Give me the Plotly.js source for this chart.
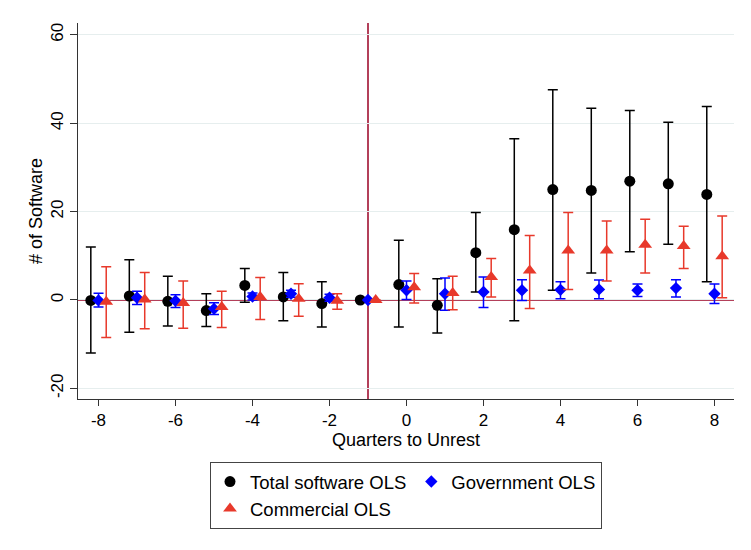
<!DOCTYPE html>
<html>
<head>
<meta charset="utf-8">
<script src="https://cdn.plot.ly/plotly-3.0.1.min.js"></script>
<style>html,body{margin:0;padding:0;background:#fff;}#chart{width:751px;height:550px;}</style>
</head>
<body>
<div id="chart"></div>
<script>
// ---- data ----
const quarters = [-8,-7,-6,-5,-4,-3,-2,-1,0,1,2,3,4,5,6,7,8];

const totalCoef = [-0.1, 0.9, -0.3, -2.4, 3.3, 0.7, -0.8, 0, 3.5, -1.2, 10.7, 15.9, 25.0, 24.8, 26.9, 26.3, 23.9];
const totalLo   = [-12.0, -7.3, -5.9, -6.0, -0.5, -4.7, -6.1, null, -6.1, -7.5, 1.8, -4.7, 2.2, 6.1, 10.9, 12.6, 4.1];
const totalHi   = [12.0, 9.1, 5.4, 1.4, 7.1, 6.2, 4.1, null, 13.5, 4.8, 19.8, 36.5, 47.6, 43.4, 42.9, 40.2, 43.8];

const govCoef = [-0.1, 0.5, -0.2, -2.0, 0.8, 1.4, 0.5, 0, 2.2, 1.4, 1.8, 2.2, 2.3, 2.4, 2.2, 2.7, 1.4];
const govLo   = [-1.6, -1.0, -1.7, -3.3, 0.0, 0.6, -0.3, null, 0.1, -2.3, -1.7, -0.1, 0.3, 0.3, 0.8, 0.7, -0.8];
const govHi   = [1.5, 2.0, 1.2, -0.6, 1.6, 2.2, 1.3, null, 4.3, 5.0, 5.2, 4.6, 4.1, 4.5, 3.6, 4.6, 3.6];

const comCoef = [-0.4, 0.1, -0.7, -1.6, 0.7, 0.3, -0.2, 0, 2.9, 1.6, 5.2, 6.7, 11.2, 11.2, 12.5, 12.2, 9.9];
const comLo   = [-8.5, -6.5, -6.4, -6.2, -4.4, -3.7, -2.1, null, -0.7, -2.2, 0.7, -1.9, 2.4, 4.3, 6.1, 7.1, 0.5];
const comHi   = [7.5, 6.2, 4.3, 2.0, 5.1, 3.7, 1.4, null, 6.0, 5.4, 9.4, 14.6, 19.8, 17.9, 18.3, 16.7, 19.0];

const yTicks = [-20, 0, 20, 40, 60];
const xTicks = [-8, -6, -4, -2, 0, 2, 4, 6, 8];
const eventQuarter = -1;

// ---- helpers ----
const dodge = 0.2;
function up(c, h)  { return c.map((v, i) => h[i] == null ? null : h[i] - v); }
function down(c, l){ return c.map((v, i) => l[i] == null ? null : v - l[i]); }
const FONT = 'Liberation Sans, Arial, Helvetica, sans-serif';
const RED = '#e8392b';
const LINE = '#b3405a';

const traces = [
  {
    name: 'Total software OLS', legendgroup: 'g1',
    x: quarters.map(q => q - dodge), y: totalCoef, type: 'scatter', mode: 'markers',
    marker: {symbol: 'circle', size: 11, color: '#000000'},
    error_y: {type: 'data', symmetric: false, array: up(totalCoef, totalHi), arrayminus: down(totalCoef, totalLo),
              color: '#000000', thickness: 1.5, width: 5}
  },
  {
    name: 'Government OLS', legendgroup: 'g2',
    x: quarters, y: govCoef, type: 'scatter', mode: 'markers',
    marker: {symbol: 'diamond', size: 9.5, color: '#0000ff'},
    error_y: {type: 'data', symmetric: false, array: up(govCoef, govHi), arrayminus: down(govCoef, govLo),
              color: '#0000ff', thickness: 1.5, width: 5}
  },
  {
    name: 'Commercial OLS', legendgroup: 'g1',
    x: quarters.map(q => q + dodge), y: comCoef, type: 'scatter', mode: 'markers',
    marker: {symbol: 'triangle-up', size: 12, color: RED},
    error_y: {type: 'data', symmetric: false, array: up(comCoef, comHi), arrayminus: down(comCoef, comLo),
              color: RED, thickness: 1.5, width: 5}
  }
];

const layout = {
  width: 751, height: 550,
  margin: {l: 78, r: 17, t: 23, b: 151},
  paper_bgcolor: '#ffffff', plot_bgcolor: '#ffffff',
  font: {family: FONT, size: 17, color: '#000000'},
  showlegend: true,
  legend: {
    orientation: 'h', traceorder: 'grouped',
    x: 0.5, xanchor: 'center', y: -0.1676, yanchor: 'top',
    bordercolor: '#444444', borderwidth: 1, bgcolor: '#ffffff',
    font: {family: FONT, size: 18.5, color: '#000000'}
  },
  xaxis: {
    range: [-8.533, 8.507], tickvals: xTicks, ticktext: xTicks.map(String),
    showgrid: false, zeroline: false,
    showline: true, linecolor: '#333333', linewidth: 1,
    ticks: 'outside', ticklen: 6, tickcolor: '#333333',
    tickfont: {family: FONT, size: 17},
    title: {text: 'Quarters to Unrest', font: {family: FONT, size: 18}, standoff: 3}
  },
  yaxis: {
    range: [-22.41, 62.69], tickvals: yTicks, ticktext: yTicks.map(String),
    tickangle: -90,
    showgrid: true, gridcolor: '#e6eeee', gridwidth: 1, zeroline: false,
    showline: true, linecolor: '#333333', linewidth: 1,
    ticks: 'outside', ticklen: 7, tickcolor: '#333333',
    tickfont: {family: FONT, size: 17},
    title: {text: '# of Software', font: {family: FONT, size: 18}, standoff: 0}
  },
  shapes: [
    {type: 'line', xref: 'paper', x0: 0, x1: 1, yref: 'y', y0: 0, y1: 0,
     line: {color: LINE, width: 2}, layer: 'between'},
    {type: 'line', xref: 'x', x0: eventQuarter, x1: eventQuarter, yref: 'paper', y0: 0, y1: 1,
     line: {color: LINE, width: 2}, layer: 'between'}
  ]
};

Plotly.newPlot('chart', traces, layout, {displayModeBar: false, staticPlot: true});
</script>
</body>
</html>
